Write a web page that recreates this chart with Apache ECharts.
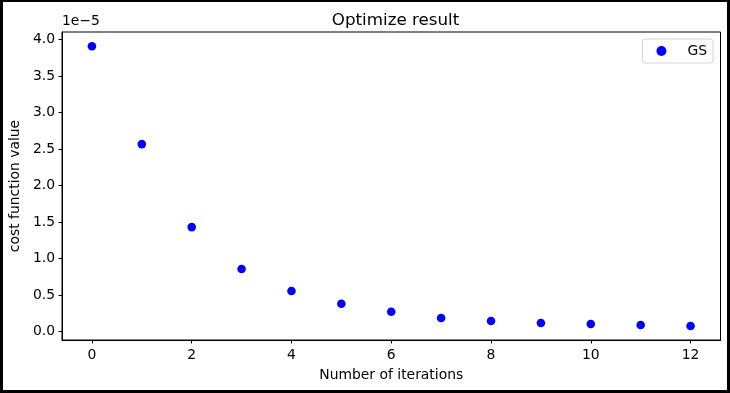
<!DOCTYPE html>
<html>
<head>
<meta charset="utf-8">
<script src="https://cdn.jsdelivr.net/npm/echarts@6/dist/echarts.min.js"></script>
<style>
html,body{margin:0;padding:0;background:#fff;}
#chart{position:absolute;left:0;top:0;width:730px;height:393px;}
#frame{position:absolute;left:0;top:0;width:730px;height:393px;box-sizing:border-box;border-style:solid;border-color:#000;border-width:2px 3px 3px 3px;pointer-events:none;}
</style>
</head>
<body>
<div id="chart"></div>
<div id="frame"></div>
<script>
// iterations
const iterations = [0, 1, 2, 3, 4, 5, 6, 7, 8, 9, 10, 11, 12];
// cost function values (units of 1e-5)
const costScaled = [3.908, 2.568, 1.432, 0.858, 0.557, 0.383, 0.274, 0.187, 0.146, 0.119, 0.105, 0.092, 0.078];
const xTicks = [0, 2, 4, 6, 8, 10, 12];
const yTicks = [0.0, 0.5, 1.0, 1.5, 2.0, 2.5, 3.0, 3.5, 4.0];
const seriesName = 'GS';

const font = 'DejaVu Sans';
const chart = echarts.init(document.getElementById('chart'), null, {renderer: 'canvas'});
const data = iterations.map((x, i) => [x, costScaled[i]]);

chart.setOption({
  animation: false,
  backgroundColor: '#fff',
  title: {
    text: 'Optimize result',
    left: 390.5,
    textAlign: 'center',
    top: 7,
    textStyle: {fontFamily: font, fontSize: 16.7, fontWeight: 'normal', color: '#000'}
  },
  grid: {left: 61, right: 9.5, top: 32, bottom: 53, show: true, borderColor: '#000', borderWidth: 1, backgroundColor: 'transparent'},
  legend: {
    right: 17, top: 39,
    orient: 'vertical',
    padding: [5, 6, 5, 14],
    borderColor: '#d6d6d6', borderWidth: 1, borderRadius: 3,
    backgroundColor: '#fff',
    icon: 'circle', itemWidth: 10, itemHeight: 10,
    textStyle: {fontFamily: font, fontSize: 13.9, color: '#000', padding: [0, 0, 0, 16]},
    data: [seriesName]
  },
  xAxis: {
    type: 'value', min: -0.6, max: 12.6,
    name: 'Number of iterations', nameLocation: 'middle', nameGap: 28,
    nameTextStyle: {fontFamily: font, fontSize: 13.9, color: '#000'},
    axisLine: {show: true, onZero: false, lineStyle: {color: '#000', width: 1}},
    axisTick: {show: true, inside: false, length: 3.5, lineStyle: {color: '#000'}, customValues: xTicks},
    axisLabel: {fontFamily: font, fontSize: 13.9, color: '#000', margin: 8, customValues: xTicks, formatter: v => String(Math.round(v))},
    splitLine: {show: false}
  },
  yAxis: {
    type: 'value', min: -0.1135, max: 4.1026,
    name: 'cost function value', nameLocation: 'middle', nameGap: 35,
    nameTextStyle: {fontFamily: font, fontSize: 13.9, color: '#000'},
    axisLine: {show: true, onZero: false, lineStyle: {color: '#000', width: 1}},
    axisTick: {show: true, inside: false, length: 3.5, lineStyle: {color: '#000'}, customValues: yTicks},
    axisLabel: {fontFamily: font, fontSize: 13.9, color: '#000', margin: 7, customValues: yTicks, formatter: v => v.toFixed(1)},
    splitLine: {show: false}
  },
  graphic: [{
    type: 'text', left: 62, top: 14,
    style: {text: '1e\u22125', font: '13.9px "DejaVu Sans"', fill: '#000'}
  }],
  series: [{
    name: seriesName, type: 'scatter', data: data,
    symbol: 'circle', symbolSize: 8.6,
    itemStyle: {color: '#0000ff', opacity: 1}
  }]
});
</script>
</body>
</html>
